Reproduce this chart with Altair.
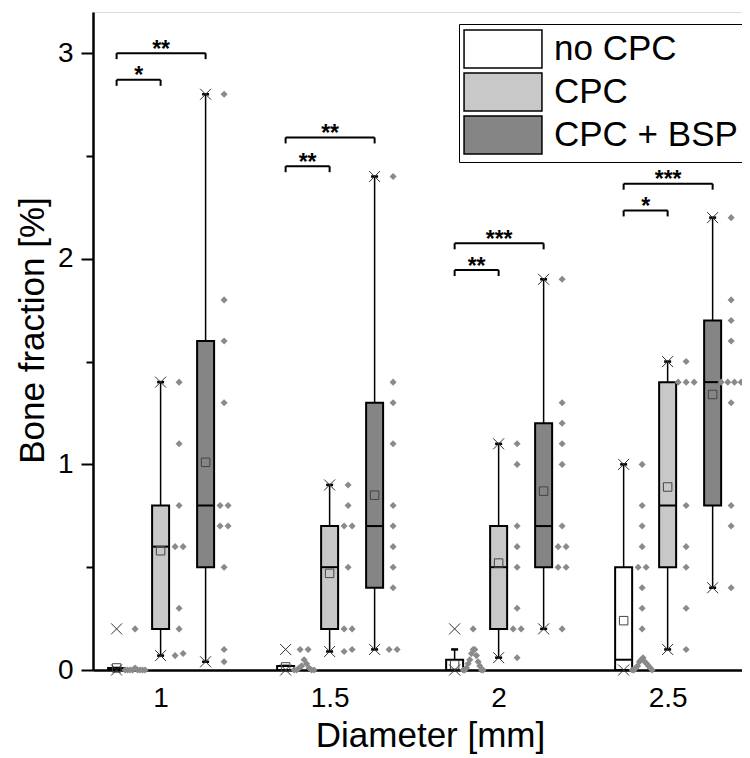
import altair as alt
import pandas as pd

# ---------------- data ----------------
DIAMETERS = [1.0, 1.5, 2.0, 2.5]
GROUPS = ["no CPC", "CPC", "CPC + BSP"]
COLORS = ["#ffffff", "#c8c8c8", "#858585"]

# box statistics, one value per diameter
Q1 = {"no CPC": [0, 0, 0, 0], "CPC": [0.2, 0.2, 0.2, 0.5], "CPC + BSP": [0.5, 0.4, 0.5, 0.8]}
MEDIAN = {"no CPC": [0, 0, 0, 0.05], "CPC": [0.6, 0.5, 0.5, 0.8], "CPC + BSP": [0.8, 0.7, 0.7, 1.4]}
Q3 = {"no CPC": [0.01, 0.02, 0.05, 0.5], "CPC": [0.8, 0.7, 0.7, 1.4], "CPC + BSP": [1.6, 1.3, 1.2, 1.7]}
WHISK_LO = {"no CPC": [0, 0, 0, 0], "CPC": [0.07, 0.09, 0.06, 0.1], "CPC + BSP": [0.04, 0.1, 0.2, 0.4]}
WHISK_HI = {"no CPC": [0.01, 0.02, 0.1, 1.0], "CPC": [1.4, 0.9, 1.1, 1.5], "CPC + BSP": [2.8, 2.4, 1.9, 2.2]}
MEAN = {"no CPC": [0.01, 0.015, 0.025, 0.24], "CPC": [0.58, 0.47, 0.52, 0.89], "CPC + BSP": [1.01, 0.85, 0.87, 1.34]}
MINV = {"no CPC": [0, 0, 0, 0], "CPC": [0.07, 0.09, 0.06, 0.1], "CPC + BSP": [0.04, 0.1, 0.2, 0.4]}
MAXV = {"no CPC": [0.2, 0.1, 0.2, 1.0], "CPC": [1.4, 0.9, 1.1, 1.5], "CPC + BSP": [2.8, 2.4, 1.9, 2.2]}

# individual data points per group and diameter
PTS_NOCPC_1 = [0.2, 0.01, 0, 0, 0, 0, 0, 0, 0, 0]
PTS_CPC_1 = [1.4, 1.1, 0.8, 0.6, 0.6, 0.3, 0.2, 0.08, 0.07]
PTS_BSP_1 = [2.8, 1.8, 1.6, 1.3, 0.8, 0.8, 0.7, 0.7, 0.5, 0.1, 0.04]
PTS_NOCPC_15 = [0.1, 0.1, 0.05, 0.03, 0.02, 0.01, 0.01, 0, 0, 0, 0]
PTS_CPC_15 = [0.9, 0.8, 0.7, 0.7, 0.5, 0.2, 0.2, 0.1, 0.09]
PTS_BSP_15 = [2.4, 1.4, 1.3, 1.1, 0.8, 0.7, 0.6, 0.5, 0.4, 0.1, 0.1]
PTS_NOCPC_2 = [0.2, 0.1, 0.1, 0.08, 0.07, 0.05, 0.04, 0.03, 0.02, 0.01, 0, 0, 0, 0]
PTS_CPC_2 = [1.1, 1.0, 0.7, 0.6, 0.5, 0.3, 0.2, 0.2, 0.06]
PTS_BSP_2 = [1.9, 1.3, 1.2, 1.1, 1.0, 0.7, 0.6, 0.6, 0.5, 0.5, 0.2]
PTS_NOCPC_25 = [1.0, 0.8, 0.7, 0.6, 0.5, 0.5, 0.4, 0.3, 0.2, 0.06, 0.05, 0.04, 0.04,
                0.03, 0.02, 0.02, 0.01, 0.01, 0, 0, 0]
PTS_CPC_25 = [1.5, 1.4, 1.4, 1.4, 0.8, 0.6, 0.5, 0.3, 0.1]
PTS_BSP_25 = [2.2, 1.8, 1.7, 1.6, 1.4, 1.4, 1.4, 1.4, 1.3, 0.8, 0.7, 0.4]

POINTS = {
    ("no CPC", 1.0): PTS_NOCPC_1, ("CPC", 1.0): PTS_CPC_1, ("CPC + BSP", 1.0): PTS_BSP_1,
    ("no CPC", 1.5): PTS_NOCPC_15, ("CPC", 1.5): PTS_CPC_15, ("CPC + BSP", 1.5): PTS_BSP_15,
    ("no CPC", 2.0): PTS_NOCPC_2, ("CPC", 2.0): PTS_CPC_2, ("CPC + BSP", 2.0): PTS_BSP_2,
    ("no CPC", 2.5): PTS_NOCPC_25, ("CPC", 2.5): PTS_CPC_25, ("CPC + BSP", 2.5): PTS_BSP_25,
}

# significance brackets
SIG_LOW_Y = [2.87, 2.45, 1.945, 2.235]
SIG_HIGH_Y = [3.0, 2.59, 2.075, 2.365]
SIG_LOW_TXT = ["*", "**", "**", "*"]
SIG_HIGH_TXT = ["**", "**", "***", "***"]

# ---------------- layout constants ----------------
W, H = 649, 658
XDOM = [0.8, 2.72]
YDOM = [0, 3.2]
PX_X = W / (XDOM[1] - XDOM[0])
PX_Y = H / (YDOM[1] - YDOM[0])
OFFSET = {"no CPC": -44 / PX_X, "CPC": 0.0, "CPC + BSP": 45 / PX_X}
BOX_HW = 8.5 / PX_X
CAP_HW = 3.5 / PX_X
PT_OFF = 18.5 / PX_X
TICK_LEN = 6 / PX_Y
FONT = "Liberation Sans"

rows = []
for g in GROUPS:
    for i, d in enumerate(DIAMETERS):
        pos = d + OFFSET[g]
        rows.append(dict(group=g, d=d, pos=pos, xl=pos - BOX_HW, xr=pos + BOX_HW,
                         cl=pos - CAP_HW, cr=pos + CAP_HW,
                         q1=Q1[g][i], med=MEDIAN[g][i], q3=Q3[g][i],
                         wlo=WHISK_LO[g][i], whi=WHISK_HI[g][i], mean=MEAN[g][i],
                         mn=MINV[g][i], mx=MAXV[g][i]))
box = pd.DataFrame(rows)


def spread(values):
    vals = sorted(values)
    clusters = []
    for v in vals:
        if clusters and (v - clusters[-1][-1]) * PX_Y < 7.5:
            clusters[-1].append(v)
        else:
            clusters.append([v])
    out = []
    for c in clusters:
        n = len(c)
        if n == 1:
            out.append((c[0], 0.0))
            continue
        step = min(8.0, 20.0 / (n - 1))
        slots = [(k - (n - 1) / 2) * step for k in range(n)]
        slots.sort(key=lambda s: -abs(s))
        for v, s in zip(c, slots):
            out.append((v, s / PX_X))
    return out


prow = []
for (g, d), vals in POINTS.items():
    base = d + OFFSET[g] + PT_OFF
    for v, dx in spread(vals):
        prow.append(dict(group=g, v=v, px=base + dx))
pts = pd.DataFrame(prow)

brow = []
for i, d in enumerate(DIAMETERS):
    x0 = d + OFFSET["no CPC"]
    for y, txt, x1 in ((SIG_LOW_Y[i], SIG_LOW_TXT[i], d + OFFSET["CPC"]),
                       (SIG_HIGH_Y[i], SIG_HIGH_TXT[i], d + OFFSET["CPC + BSP"])):
        brow.append(dict(x0=x0, x1=x1, xm=(x0 + x1) / 2, y=y, yt=y - TICK_LEN, label=txt))
br = pd.DataFrame(brow)

# ---------------- scales / axes ----------------
xs = alt.Scale(domain=XDOM, nice=False, zero=False)
ys = alt.Scale(domain=YDOM, nice=False, zero=False)
x_axis = alt.Axis(values=DIAMETERS, labelExpr="'' + datum.value", ticks=False, grid=False,
                  title="Diameter [mm]", labelFontSize=28, labelPadding=14, labelFont=FONT,
                  labelColor="black", titleFont=FONT, titleFontSize=35, titleFontWeight="normal",
                  titleColor="black", titleX=337, titleY=76, titleBaseline="alphabetic",
                  titleAlign="center", domainColor="black", domainWidth=2.5)
y_axis = alt.Axis(values=[0, 0.5, 1, 1.5, 2, 2.5, 3],
                  labelExpr="datum.value % 1 === 0 ? '' + datum.value : ''",
                  tickSize={"condition": {"test": "datum.value % 1 === 0", "value": 12}, "value": 7},
                  tickWidth=2, tickColor="black", grid=False, labelPadding=8,
                  title="Bone fraction [%]", labelFontSize=28, labelFont=FONT, labelColor="black",
                  titleFont=FONT, titleFontSize=35, titleFontWeight="normal", titleColor="black",
                  titleX=-50, titleY=318, titleBaseline="alphabetic", titleAlign="center",
                  domainColor="black", domainWidth=2.5)


def X(f):
    return alt.X(f, type="quantitative", scale=xs, axis=x_axis)


def Y(f):
    return alt.Y(f, type="quantitative", scale=ys, axis=y_axis)


legend = alt.Legend(title=None, orient="none", legendX=366, legendY=12,
                    symbolType="M-2.05,-1L2.05,-1L2.05,1L-2.05,1Z", symbolSize=1444,
                    symbolOffset=19,
                    symbolStrokeColor="black", symbolStrokeWidth=1.5, symbolOpacity=1,
                    labelFontSize=35, labelFont=FONT, labelColor="black", labelOffset=31,
                    labelLimit=0, rowPadding=-1, padding=5, strokeColor="black",
                    fillColor="white", cornerRadius=0)

base = alt.Chart(box)
whisk = base.mark_rule(color="black", strokeWidth=1.5).encode(x=X("pos"), y=Y("wlo"), y2="whi")
cap_hi = base.mark_rule(color="black", strokeWidth=2.5).encode(x=X("cl"), x2="cr", y=Y("whi"))
cap_lo = base.mark_rule(color="black", strokeWidth=2.5).encode(x=X("cl"), x2="cr", y=Y("wlo"))
boxes = base.mark_rect(stroke="black", strokeWidth=2).encode(
    x=X("xl"), x2="xr", y=Y("q1"), y2="q3",
    fill=alt.Fill("group:N", scale=alt.Scale(domain=GROUPS, range=COLORS), legend=legend))
medians = base.mark_rule(color="black", strokeWidth=2).encode(x=X("xl"), x2="xr", y=Y("med"))
means = base.mark_point(shape="square", size=72, filled=False, color="#444444",
                        strokeWidth=1, opacity=1).encode(x=X("pos"), y=Y("mean"))
XSHAPE = "M-1,-1L1,1M1,-1L-1,1"
xmin = base.mark_point(shape=XSHAPE, size=121, filled=False, color="#333333",
                       strokeWidth=1, opacity=1).encode(x=X("pos"), y=Y("mn"))
xmax = base.mark_point(shape=XSHAPE, size=121, filled=False, color="#333333",
                       strokeWidth=1, opacity=1).encode(x=X("pos"), y=Y("mx"))
points = alt.Chart(pts).mark_point(shape="diamond", size=50, filled=True, color="#8a8a8a",
                                   opacity=1).encode(x=X("px"), y=Y("v"))

bb = alt.Chart(br)
br_h = bb.mark_rule(color="black", strokeWidth=2).encode(x=X("x0"), x2="x1", y=Y("y"))
br_l = bb.mark_rule(color="black", strokeWidth=2).encode(x=X("x0"), y=Y("yt"), y2="y")
br_r = bb.mark_rule(color="black", strokeWidth=2).encode(x=X("x1"), y=Y("yt"), y2="y")
br_t = bb.mark_text(font=FONT, fontSize=23, fontWeight="bold", color="black",
                    baseline="alphabetic", align="center", dy=3.5).encode(
    x=X("xm"), y=Y("y"), text="label:N")

chart = alt.layer(whisk, cap_hi, cap_lo, boxes, medians, means, xmin, xmax, points,
                  br_h, br_l, br_r, br_t).properties(
    width=W, height=H,
    padding={"left": 85, "top": 4, "right": 0, "bottom": 88},
    autosize=alt.AutoSizeParams(type="none"),
).configure_view(stroke="black", strokeWidth=2.5).configure(background="white")

chart.save("out.html", embed_options={"renderer": "svg", "actions": False})
